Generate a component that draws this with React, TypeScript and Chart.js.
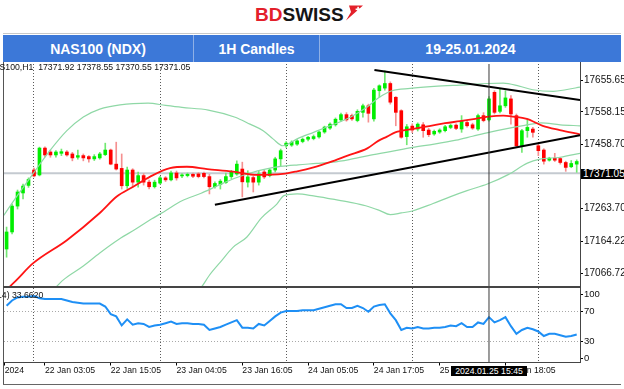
import React, { useEffect, useRef } from 'react';
import { Chart, registerables } from 'chart.js';

Chart.register(...registerables);

// ---------------- data ----------------
const opens = [17140,17192,17271,17311,17334,17381,17366,17448,17436,17427,
 17432,17436,17430,17420,17425,17422,17415,17418,17428,17442,
 17399,17386,17333,17381,17344,17364,17344,17330,17341,17357,
 17351,17372,17363,17364,17368,17369,17371,17361,17330,17337,
 17343,17361,17369,17384,17344,17358,17344,17375,17364,17381,
 17415,17455,17457,17460,17468,17475,17477,17482,17497,17509,
 17519,17534,17550,17547,17532,17557,17577,17537,17623,17631,
 17645,17603,17562,17483,17515,17506,17519,17503,17491,17497,
 17501,17511,17518,17506,17526,17519,17506,17547,17534,17618,
 17560,17577,17598,17547,17455,17501,17506,17455,17442,17411,
 17417,17416,17404,17391,17399];
const highs = [17207,17277,17320,17338,17357,17387,17451,17452,17442,17440,
 17445,17440,17435,17442,17430,17425,17428,17435,17463,17445,
 17466,17430,17390,17385,17375,17370,17350,17350,17362,17361,
 17378,17378,17370,17372,17372,17373,17375,17368,17345,17352,
 17372,17380,17409,17405,17379,17362,17378,17380,17385,17420,
 17445,17468,17470,17474,17479,17484,17488,17500,17515,17525,
 17540,17555,17556,17552,17565,17582,17582,17630,17641,17684,
 17650,17605,17565,17520,17522,17525,17526,17508,17503,17507,
 17517,17521,17522,17547,17532,17524,17552,17556,17605,17623,
 17628,17623,17608,17552,17505,17537,17511,17460,17446,17420,
 17432,17420,17408,17410,17412];
const lows = [17115,17186,17262,17293,17328,17360,17363,17421,17420,17420,
 17425,17423,17409,17414,17409,17405,17410,17414,17425,17397,
 17381,17323,17325,17330,17329,17335,17323,17326,17338,17346,
 17348,17350,17358,17360,17358,17357,17357,17308,17326,17323,
 17340,17355,17365,17299,17329,17314,17335,17355,17360,17375,
 17394,17450,17453,17456,17464,17470,17473,17478,17493,17505,
 17515,17530,17530,17532,17528,17542,17527,17530,17603,17625,
 17582,17516,17478,17458,17495,17500,17481,17483,17487,17493,
 17497,17507,17504,17496,17512,17505,17502,17528,17530,17552,
 17555,17572,17521,17450,17435,17481,17481,17425,17399,17408,
 17407,17399,17377,17388,17374];
const closes = [17192,17271,17314,17332,17352,17363,17448,17427,17427,17436,
 17437,17427,17418,17425,17418,17415,17422,17430,17442,17399,
 17384,17333,17381,17344,17364,17344,17330,17344,17357,17351,
 17372,17357,17366,17368,17362,17361,17361,17330,17340,17347,
 17361,17375,17399,17345,17360,17344,17369,17360,17381,17415,
 17440,17463,17466,17470,17475,17481,17483,17497,17512,17521,
 17536,17550,17534,17537,17560,17577,17554,17625,17638,17645,
 17588,17557,17481,17513,17503,17521,17501,17489,17499,17503,
 17513,17517,17508,17530,17516,17509,17547,17532,17598,17557,
 17577,17601,17552,17455,17501,17511,17496,17440,17408,17417,
 17411,17404,17389,17401,17407];

const rsiValues = [77,84,88,89,89,90,87,86,86,86,
 86,84,82,81,80,80,80,80,76,66,
 63,51,59,52,54,53,49,51,52,54,
 56,53,54,54,53,53,52,45,47,49,
 52,55,58,48,48,47,53,51,57,63,
 68,70,70,70,71,71,71,73,75,77,
 79,79,74,74,77,74,69,76,78,79,
 67,58,45,48,47,49,47,47,48,48,
 49,51,50,54,49,49,55,53,62,55,
 58,62,50,40,45,48,46,43,37,40,
 40,38,36,37,39];

// moving average (red)
const maIdx = [-0.5,0.6,1.8,4.8,11,17,20.1,23.1,26.2,29.8,32.9,36.6,41.3,45.7,50.4,53,56,59,62.2,65.8,67.8,69.4,70.9,74,77.1,80,82.7,85.5,87.9,90.6,92.4,94.9,97.8,100.9,104.6];
const maVal = [17000,17025,17045,17096,17167,17250,17300,17330,17361,17387,17391,17384,17376,17366,17369,17377,17389,17405,17425,17447,17470,17483,17496,17506,17515,17524,17530,17537,17544,17547,17544,17537,17516,17503,17490];
// bands (green)
const upIdx = [-1.2,1.8,4.8,7.9,11,14,17,20.7,25.8,29,32,36.8,41.7,44.4,46.8,48.6,50.4,51.3,53,56,59,62.7,65.5,68,70.3,73.6,78,83.6,87.7,90.6,93.5,96,99.7,102,104.6];
const upVal = [17226,17299,17369,17440,17501,17543,17567,17580,17585,17578,17572,17564,17542,17521,17501,17476,17455,17460,17476,17496,17516,17542,17570,17603,17623,17630,17636,17641,17645,17646,17637,17626,17621,17626,17634];
const midIdx = [7,9.1,10.3,14,17,20.5,23.5,26.5,29,32,35.5,38.5,41.5,44.5,47,50,53.2,56.5,59.5,62.5,66,70,74,78,82,85,88,91.5,94.5,97.5,101,104.6];
const midVal = [16985,17025,17045,17088,17128,17170,17200,17232,17257,17287,17310,17333,17355,17372,17383,17392,17397,17401,17405,17413,17425,17437,17450,17460,17472,17484,17496,17508,17517,17525,17519,17516];
const lowIdx = [33,35.6,37,39,41.3,43.8,46.5,49.3,50.6,53,56,59.5,62.5,65.5,68,70,72,74,77.8,81,84,87.8,91.5,95,97.3,101,104.6];
const lowVal = [16980,17025,17060,17100,17145,17176,17235,17277,17303,17308,17302,17292,17283,17272,17258,17245,17250,17256,17279,17300,17318,17339,17367,17402,17414,17420,17432];
// trend lines
const supportIdx = [38, 104.6];
const supportVal = [17275, 17487];
const resistIdx = [67.1, 104.6];
const resistVal = [17686, 17595];

const bidPrice = 17371.05;
const crossIdx = 88;
const gridIdx = [5, 28, 51, 74, 97];
const timeTickIdx = [-0.35, 7, 19, 31, 43, 55, 67, 79, 91];
const timeLabels = ['2024', '22 Jan 03:05', '22 Jan 15:05', '23 Jan 04:05', '23 Jan 16:05', '24 Jan 05:05', '24 Jan 17:05', '25 Jan 06:05', '25 Jan 18:05'];
const priceTicks = [17655.65, 17558.15, 17458.70, 17361.20, 17263.70, 17164.22, 17066.72];
const rsiTicks = [100, 70, 30, 0];
const rsiLevels = [70, 30];

const xMin = -0.47, xMax = 104.6;
const priceMin = 17024.1, priceMax = 17704.5;
const rsiMin = 2, rsiMax = 100.5;

const titleSymbol = 'NAS100 (NDX)';
const titleFrame = '1H Candles';
const titlePeriod = '19-25.01.2024';
const ohlcText = 'NAS100,H1  17371.92 17378.55 17370.55 17371.05';
const rsiText = 'RSI(14) 33.6620';
const crossLabel = '2024.01.25 15:45';
const bidLabel = '17371.05';

const FONT = "'Liberation Sans', Arial, sans-serif";

// ---------------- helpers ----------------
const pts = (idx: number[], val: number[]) => idx.map((x, k) => ({ x, y: val[k] }));
const isUp = (i: number) => closes[i] >= opens[i];
const lineDs = (data: any[], color: string, width: number, order: number, extra: any = {}) => ({
  type: 'line', data, borderColor: color, borderWidth: width, pointRadius: 0, fill: false, order, ...extra,
});

function mainConfig(): any {
  const bodies = opens.map((o, i) => ({ x: i, y: [o, closes[i]] }));
  const wicks = lows.map((l, i) => ({ x: i, y: [l, highs[i]] }));
  return {
    type: 'bar',
    data: {
      datasets: [
        lineDs([{ x: crossIdx, y: priceMin - 50 }, { x: crossIdx, y: priceMax + 50 }], '#3a3a3a', 1, 0),
        lineDs(pts(supportIdx, supportVal), '#000000', 2, 1),
        lineDs(pts(resistIdx, resistVal), '#000000', 2, 1),
        lineDs(pts(maIdx, maVal), '#ff1414', 1.8, 2, { cubicInterpolationMode: 'monotone' }),
        lineDs(pts(upIdx, upVal), '#8fd8a6', 1.2, 3, { cubicInterpolationMode: 'monotone' }),
        lineDs(pts(midIdx, midVal), '#8fd8a6', 1.2, 3, { cubicInterpolationMode: 'monotone' }),
        lineDs(pts(lowIdx, lowVal), '#8fd8a6', 1.2, 3, { cubicInterpolationMode: 'monotone' }),
        {
          type: 'bar', data: bodies, order: 4, grouped: false, barThickness: 3, minBarLength: 1,
          backgroundColor: (c: any) => (isUp(c.dataIndex) ? '#00ee00' : '#ff0000'),
        },
        {
          type: 'bar', data: wicks, order: 5, grouped: false, barThickness: 1,
          backgroundColor: (c: any) => (isUp(c.dataIndex) ? '#72e872' : '#f59090'),
        },
        lineDs([{ x: xMin, y: bidPrice }, { x: xMax, y: bidPrice }], '#c4cad0', 2, 6),
      ],
    },
    options: {
      animation: false,
      responsive: false,
      devicePixelRatio: 1,
      events: [],
      layout: { padding: { left: 4, right: 0, top: 0, bottom: 0 } },
      plugins: { legend: { display: false }, tooltip: { enabled: false } },
      scales: {
        x: {
          type: 'linear', min: xMin, max: xMax, offset: false, display: true,
          afterBuildTicks: (s: any) => { s.ticks = gridIdx.map((v) => ({ value: v })); },
          afterFit: (s: any) => { s.height = 0; s.paddingLeft = 0; s.paddingRight = 0; },
          ticks: { display: false },
          grid: { offset: false, color: '#5a5a5a', lineWidth: 1, drawTicks: false, tickLength: 0 },
          border: { display: false, dash: [1, 2] },
        },
        y: {
          type: 'linear', position: 'right', min: priceMin, max: priceMax, beginAtZero: false,
          afterBuildTicks: (s: any) => { s.ticks = priceTicks.map((v) => ({ value: v })); },
          afterFit: (s: any) => { s.width = 44; s.paddingTop = 0; s.paddingBottom = 0; },
          ticks: {
            callback: (v: any) => Number(v).toFixed(2), autoSkip: false, padding: 1,
            color: '#111', font: { size: 10, family: FONT },
          },
          grid: { drawOnChartArea: false, drawTicks: true, tickLength: 3, color: '#000' },
          border: { display: false },
        },
      },
    },
  };
}

function rsiConfig(): any {
  return {
    type: 'line',
    data: {
      datasets: [
        lineDs([{ x: crossIdx, y: -20 }, { x: crossIdx, y: 120 }], '#3a3a3a', 1, 0, { xAxisID: 'x', yAxisID: 'y' }),
        lineDs(rsiValues.map((v, i) => ({ x: i, y: v })), '#1e8ff5', 2, 1, { xAxisID: 'x', yAxisID: 'y' }),
      ],
    },
    options: {
      animation: false,
      responsive: false,
      devicePixelRatio: 1,
      events: [],
      layout: { padding: { left: 4, right: 0, top: 0, bottom: 0 } },
      plugins: { legend: { display: false }, tooltip: { enabled: false } },
      scales: {
        x: {
          type: 'linear', min: xMin, max: xMax, offset: false, position: 'bottom',
          afterBuildTicks: (s: any) => { s.ticks = timeTickIdx.map((v) => ({ value: v })); },
          afterFit: (s: any) => { s.height = 26.5; s.paddingLeft = 0; s.paddingRight = 0; },
          ticks: {
            callback: (_v: any, i: number) => timeLabels[i], align: 'start', autoSkip: false,
            maxRotation: 0, minRotation: 0, padding: 0, color: '#111', font: { size: 8.7, family: FONT },
          },
          grid: { offset: false, drawOnChartArea: false, drawTicks: true, tickLength: 3, color: '#000' },
          border: { display: false },
        },
        xg: {
          type: 'linear', axis: 'x', min: xMin, max: xMax, offset: false, position: 'bottom',
          afterBuildTicks: (s: any) => { s.ticks = gridIdx.map((v) => ({ value: v })); },
          afterFit: (s: any) => { s.height = 0; s.paddingLeft = 0; s.paddingRight = 0; },
          ticks: { display: false },
          grid: { offset: false, color: '#5a5a5a', lineWidth: 1, drawTicks: false, tickLength: 0 },
          border: { display: false, dash: [1, 2] },
        },
        y: {
          type: 'linear', position: 'right', min: rsiMin, max: rsiMax, beginAtZero: false,
          afterBuildTicks: (s: any) => { s.ticks = rsiTicks.map((v) => ({ value: v })); },
          afterFit: (s: any) => {
            s.width = 44; s.paddingTop = 0; s.paddingBottom = 0;
            s.getPixelForTick = function (index: number) {
              const t = this.ticks[index];
              if (!t) return null;
              const p = this.getPixelForValue(t.value);
              return Math.min(Math.max(p, this.top + 6), this.bottom - 4);
            };
          },
          ticks: {
            callback: (v: any) => String(v), autoSkip: false, padding: 1,
            color: '#111', font: { size: 9.5, family: FONT },
          },
          grid: {
            color: (c: any) => (c.tick && rsiLevels.includes(c.tick.value) ? '#a9a9a9' : 'rgba(0,0,0,0)'),
            tickColor: '#000', drawTicks: true, tickLength: 3, lineWidth: 1,
          },
          border: { display: false, dash: [1, 2] },
        },
      },
    },
  };
}

const abs = (left: number, top: number, width: number, height: number, extra: any = {}): any => ({
  position: 'absolute', left, top, width, height, ...extra,
});

export default function App() {
  const mainRef = useRef<HTMLCanvasElement>(null);
  const rsiRef = useRef<HTMLCanvasElement>(null);

  useEffect(() => {
    Chart.defaults.font.family = FONT;
    const c1 = new Chart(mainRef.current as HTMLCanvasElement, mainConfig());
    const c2 = new Chart(rsiRef.current as HTMLCanvasElement, rsiConfig());
    return () => { c1.destroy(); c2.destroy(); };
  }, []);

  const headerText: any = {
    color: '#fff', fontWeight: 700, fontSize: 14, display: 'flex', alignItems: 'center',
    justifyContent: 'center', whiteSpace: 'nowrap',
  };

  return (
    <div style={{ position: 'fixed', left: 0, top: 0, width: 624, height: 389, background: '#fff', overflow: 'hidden', fontFamily: FONT }}>
      {/* logo */}
      <div style={abs(255, 4.5, 92, 19, { fontSize: 19, lineHeight: '19px', fontWeight: 700, letterSpacing: 0, whiteSpace: 'nowrap' })}>
        <span style={{ color: '#e3202a' }}>BD</span><span style={{ color: '#151515' }}>SWISS</span>
      </div>
      <svg style={abs(345, 5, 18, 16)} width={18} height={16} viewBox="0 0 18 16">
        <polygon points="4,0.5 18,0.5 1,15.5 6,7" fill="#e3202a" />
        <rect x="12.3" y="1.8" width="1.6" height="5" fill="#fff" />
        <rect x="10.6" y="3.5" width="5" height="1.6" fill="#fff" />
      </svg>

      {/* title bar */}
      <div style={abs(3, 33, 618, 1, { background: '#c8c8c8' })} />
      <div style={abs(3, 35, 618, 27, { background: '#3c78d8' })} />
      <div style={abs(193, 35, 1, 27, { background: '#8fb0e6' })} />
      <div style={abs(319, 35, 1, 27, { background: '#8fb0e6' })} />
      <div style={abs(3, 35, 190, 27, headerText)}>{titleSymbol}</div>
      <div style={abs(194, 35, 125, 27, headerText)}>{titleFrame}</div>
      <div style={abs(320, 35, 301, 27, headerText)}>{titlePeriod}</div>

      {/* charts */}
      <canvas ref={mainRef} width={624} height={223} style={abs(0, 64, 624, 223, { display: 'block' })} />
      <canvas ref={rsiRef} width={624} height={101} style={abs(0, 288, 624, 101, { display: 'block' })} />

      {/* frame lines */}
      <div style={abs(3, 62, 1, 323, { background: '#555' })} />
      <div style={abs(3, 286, 578, 2, { background: '#454545' })} />
      <div style={abs(3, 362, 578, 1, { background: '#454545' })} />
      <div style={abs(580, 62, 1, 301, { background: '#454545' })} />
      <div style={abs(3, 384, 618, 1, { background: '#666' })} />

      {/* texts */}
      <div style={abs(-12.5, 61.5, 240, 10, { fontSize: 8.7, lineHeight: '10px', color: '#111', whiteSpace: 'pre' })}>{ohlcText}</div>
      <div style={abs(-20.4, 290, 80, 10, { fontSize: 8.7, lineHeight: '10px', color: '#111', whiteSpace: 'pre' })}>{rsiText}</div>

      {/* price marker */}
      <div style={abs(581, 169, 43, 10, { background: '#000', color: '#fff', fontSize: 10, lineHeight: '10px', paddingLeft: 2, boxSizing: 'border-box', whiteSpace: 'nowrap', overflow: 'hidden' })}>{bidLabel}</div>
      {/* time marker */}
      <div style={abs(451, 366, 76, 10, { background: '#000', color: '#fff', fontSize: 8.7, lineHeight: '10px', textAlign: 'center', whiteSpace: 'nowrap' })}>{crossLabel}</div>
    </div>
  );
}
